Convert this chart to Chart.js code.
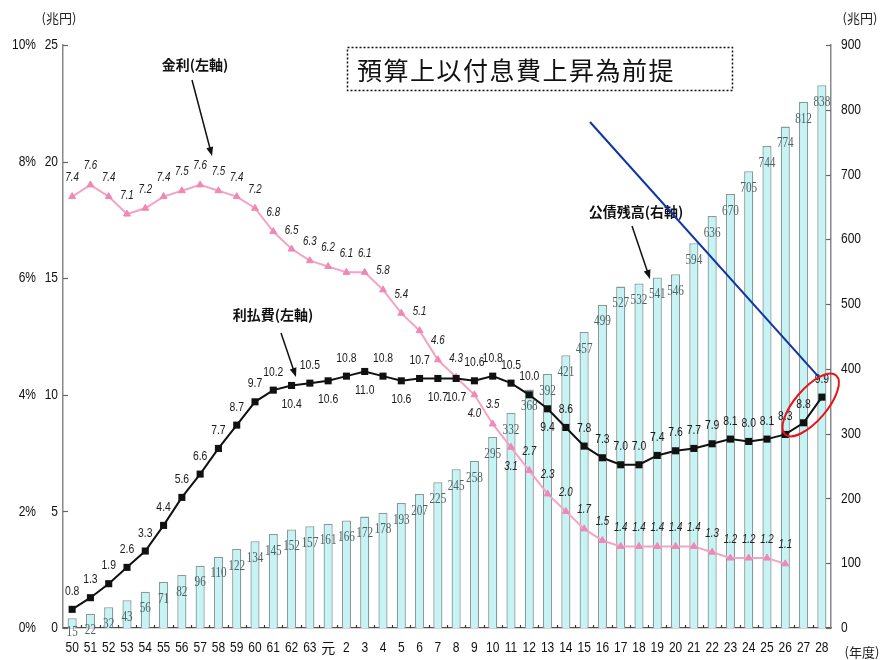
<!DOCTYPE html>
<html>
<head>
<meta charset="utf-8">
<script src="https://cdn.jsdelivr.net/npm/chart.js@4"></script>
<style>
  html, body { margin: 0; padding: 0; background: #fff; }
  canvas { display: block; }
</style>
</head>
<body>
<canvas id="c" width="880" height="660"></canvas>
<script>
// Fiscal years (昭和50年度 – 平成28年度)
const years = ['50','51','52','53','54','55','56','57','58','59','60','61','62','63',
  '元','2','3','4','5','6','7','8','9','10','11','12','13','14','15','16','17','18',
  '19','20','21','22','23','24','25','26','27','28'];

// 公債残高 (兆円, right axis)
const debtOutstanding = [15,22,32,43,56,71,82,96,110,122,134,145,152,157,
  161,166,172,178,193,207,225,245,258,295,332,368,392,421,457,499,527,532,
  541,546,594,636,670,705,744,774,812,838];

// 利払費 (兆円, left axis)
const interestPayments = [0.8,1.3,1.9,2.6,3.3,4.4,5.6,6.6,7.7,8.7,9.7,10.2,10.4,10.5,
  10.6,10.8,11.0,10.8,10.6,10.7,10.7,10.7,10.6,10.8,10.5,10.0,9.4,8.6,7.8,7.3,7.0,7.0,
  7.4,7.6,7.7,7.9,8.1,8.0,8.1,8.3,8.8,9.9];

// 金利 (%, left axis) — through 平成26年度
const interestRate = [7.4,7.6,7.4,7.1,7.2,7.4,7.5,7.6,7.5,7.4,7.2,6.8,6.5,6.3,
  6.2,6.1,6.1,5.8,5.4,5.1,4.6,4.3,4.0,3.5,3.1,2.7,2.3,2.0,1.7,1.5,1.4,1.4,
  1.4,1.4,1.4,1.3,1.2,1.2,1.2,1.1];

// Axis ticks
const amountTicks = [0,5,10,15,20,25];
const rateTicks = [0,2,4,6,8,10];
const debtTicks = [0,100,200,300,400,500,600,700,800,900];

const SANS = '"Liberation Sans","Noto Sans CJK JP",sans-serif';
const SERIF = '"Liberation Serif","DejaVu Serif",serif';
const CJK = '"Noto Sans CJK JP","Noto Sans CJK SC",sans-serif';
const CJK_TC = '"Noto Sans CJK TC","Noto Sans CJK JP",sans-serif';

// value labels drawn under the point instead of above it
const paymentLabelBelow = new Set([12,14,16,18,20,21,26]);
const rateLabelBelow = new Set([22,24]);

// condensed text: squeeze glyphs horizontally around the anchor
function narrowText(ctx, text, x, y, sx, align) {
  ctx.save();
  ctx.translate(x, y);
  ctx.scale(sx, 1);
  ctx.textAlign = align || 'center';
  ctx.fillText(text, 0, 0);
  ctx.restore();
}

function arrow(ctx, x1, y1, x2, y2) {
  const a = Math.atan2(y2 - y1, x2 - x1);
  const h = 9, w = 3.5;
  ctx.beginPath();
  ctx.moveTo(x1, y1);
  ctx.lineTo(x2 - Math.cos(a) * h * 0.8, y2 - Math.sin(a) * h * 0.8);
  ctx.stroke();
  ctx.beginPath();
  ctx.moveTo(x2, y2);
  ctx.lineTo(x2 - Math.cos(a) * h - Math.sin(a) * w, y2 - Math.sin(a) * h + Math.cos(a) * w);
  ctx.lineTo(x2 - Math.cos(a) * h + Math.sin(a) * w, y2 - Math.sin(a) * h - Math.cos(a) * w);
  ctx.closePath();
  ctx.fill();
}

const decorations = {
  id: 'decorations',
  afterDraw(chart) {
    const { ctx, chartArea: area } = chart;
    const { x, y, yPct, y2 } = chart.scales;
    ctx.save();

    // inward tick marks
    ctx.strokeStyle = '#666';
    ctx.lineWidth = 1.2;
    amountTicks.forEach(v => {
      const py = Math.round(y.getPixelForValue(v)) + 0.5;
      ctx.beginPath(); ctx.moveTo(area.left, py); ctx.lineTo(area.left + 5, py); ctx.stroke();
    });
    debtTicks.forEach(v => {
      const py = Math.round(y2.getPixelForValue(v)) + 0.5;
      ctx.beginPath(); ctx.moveTo(area.right, py); ctx.lineTo(area.right - 5, py); ctx.stroke();
    });
    ctx.strokeStyle = '#333';
    for (let i = 1; i < years.length; i++) {
      const px = Math.round((x.getPixelForValue(i - 1) + x.getPixelForValue(i)) / 2) + 0.5;
      ctx.beginPath(); ctx.moveTo(px, area.bottom); ctx.lineTo(px, area.bottom - 3); ctx.stroke();
    }

    // axis tick labels (condensed)
    ctx.textBaseline = 'middle';
    ctx.fillStyle = '#111';
    ctx.font = '15px ' + SANS;
    amountTicks.forEach(v => narrowText(ctx, String(v), area.left - 5, y.getPixelForValue(v), 0.8, 'right'));
    rateTicks.forEach(v => narrowText(ctx, v + '%', area.left - 27, yPct.getPixelForValue(v), 0.8, 'right'));
    debtTicks.forEach(v => narrowText(ctx, String(v), area.right + 10, y2.getPixelForValue(v), 0.8, 'left'));
    years.forEach((lab, i) => {
      ctx.font = (lab === '元' ? '14px ' + CJK : '15px ' + SANS);
      narrowText(ctx, lab, x.getPixelForValue(i), area.bottom + 20, lab === '元' ? 1 : 0.8, 'center');
    });

    // bar value labels
    ctx.font = '14px ' + SERIF;
    ctx.fillStyle = '#4d6264';
    chart.getDatasetMeta(0).data.forEach((bar, i) => {
      const ty = Math.min(bar.y + 17, area.bottom + 4);
      narrowText(ctx, String(debtOutstanding[i]), bar.x, ty, 0.8);
    });

    // interest rate labels
    ctx.font = 'italic 12.5px ' + SANS;
    ctx.fillStyle = '#222';
    chart.getDatasetMeta(1).data.forEach((pt, i) => {
      const dy = rateLabelBelow.has(i) ? 19 : -19;
      narrowText(ctx, interestRate[i].toFixed(1), pt.x, pt.y + dy, 0.78);
    });

    // interest payment labels
    ctx.font = '13px ' + SANS;
    ctx.fillStyle = '#1a1a1a';
    chart.getDatasetMeta(2).data.forEach((pt, i) => {
      const dy = paymentLabelBelow.has(i) ? 19 : -18;
      narrowText(ctx, interestPayments[i].toFixed(1), pt.x, pt.y + dy, 0.8);
    });

    ctx.textAlign = 'center';

    // unit captions
    ctx.font = '13px ' + CJK;
    ctx.fillStyle = '#222';
    ctx.fillText('(兆円)', 59, 18);
    ctx.fillText('(兆円)', 860, 18);
    ctx.fillText('(年度)', 862, 652);

    // series captions with arrows
    ctx.font = 'bold 14px ' + CJK;
    ctx.fillStyle = '#111';
    ctx.fillText('金利(左軸)', 195, 65);
    ctx.fillText('利払費(左軸)', 273, 315);
    ctx.fillText('公債残高(右軸)', 636, 212);
    ctx.strokeStyle = '#111';
    ctx.lineWidth = 1.5;
    arrow(ctx, 192, 80, 212, 156);
    arrow(ctx, 281, 333, 296, 377);
    arrow(ctx, 632, 226, 650, 279);

    // note box
    ctx.setLineDash([2, 2]);
    ctx.lineWidth = 1.5;
    ctx.strokeStyle = '#111';
    ctx.strokeRect(347.5, 47.5, 385, 43);
    ctx.setLineDash([]);
    ctx.font = '25px ' + CJK_TC;
    ctx.textAlign = 'left';
    ctx.fillStyle = '#111';
    let tx = 357;
    for (const ch of '預算上以付息費上昇為前提') {
      ctx.fillText(ch, tx, 70);
      tx += ctx.measureText(ch).width + 1.5;
    }

    // pointer to the last two interest payment points
    const pay = chart.getDatasetMeta(2).data;
    const p27 = pay[pay.length - 2], p28 = pay[pay.length - 1];
    ctx.strokeStyle = '#1034a6';
    ctx.lineWidth = 2;
    ctx.beginPath();
    ctx.moveTo(590, 122);
    ctx.lineTo(p28.x - 3, p28.y - 20);
    ctx.stroke();

    const cx = (p27.x + p28.x) / 2 - 2, cy = (p27.y + p28.y) / 2 - 5;
    ctx.strokeStyle = '#e8141c';
    ctx.lineWidth = 2;
    ctx.beginPath();
    ctx.ellipse(cx, cy, 39, 16, -0.86, 0, Math.PI * 2);
    ctx.stroke();

    ctx.restore();
  }
};

new Chart(document.getElementById('c'), {
  type: 'bar',
  data: {
    labels: years,
    datasets: [
      {
        label: '公債残高',
        data: debtOutstanding,
        yAxisID: 'y2',
        backgroundColor: '#c6f3f3',
        borderColor: '#8a9a9a',
        borderWidth: 1.3,
        categoryPercentage: 1,
        barPercentage: 0.5,
        order: 3
      },
      {
        type: 'line',
        label: '金利',
        data: interestRate,
        yAxisID: 'yPct',
        borderColor: '#f5a3c5',
        borderWidth: 2,
        pointStyle: 'triangle',
        pointRadius: 4,
        pointBackgroundColor: '#f088b5',
        pointBorderColor: '#f088b5',
        pointBorderWidth: 1,
        tension: 0,
        order: 2
      },
      {
        type: 'line',
        label: '利払費',
        data: interestPayments,
        yAxisID: 'y',
        borderColor: '#111',
        borderWidth: 2,
        pointStyle: 'rect',
        pointRadius: 5,
        pointBackgroundColor: '#111',
        pointBorderColor: '#111',
        pointBorderWidth: 0,
        tension: 0,
        order: 1
      }
    ]
  },
  options: {
    responsive: false,
    devicePixelRatio: 1,
    animation: false,
    layout: { padding: { top: 45, left: 0, right: 0, bottom: 0 } },
    plugins: { legend: { display: false }, tooltip: { enabled: false } },
    scales: {
      x: {
        offset: true,
        grid: { display: false, drawTicks: false },
        border: { color: '#555', width: 1.2 },
        ticks: { display: false, autoSkip: false },
        afterFit(s) { s.height = 32; }
      },
      y: {
        position: 'left',
        weight: 0,
        min: 0, max: 25,
        afterBuildTicks(s) { s.ticks = amountTicks.map(v => ({ value: v })); },
        grid: { display: false, drawTicks: false },
        border: { color: '#888', width: 1.5 },
        ticks: { display: false },
        afterFit(s) { s.width = 23; }
      },
      yPct: {
        position: 'left',
        weight: 1,
        min: 0, max: 10,
        afterBuildTicks(s) { s.ticks = rateTicks.map(v => ({ value: v })); },
        grid: { display: false, drawTicks: false },
        border: { display: false },
        ticks: { display: false },
        afterFit(s) { s.width = 40; }
      },
      y2: {
        position: 'right',
        min: 0, max: 900,
        afterBuildTicks(s) { s.ticks = debtTicks.map(v => ({ value: v })); },
        grid: { display: false, drawTicks: false },
        border: { color: '#888', width: 1.5 },
        ticks: { display: false },
        afterFit(s) { s.width = 49; }
      }
    }
  },
  plugins: [decorations]
});
</script>
</body>
</html>
